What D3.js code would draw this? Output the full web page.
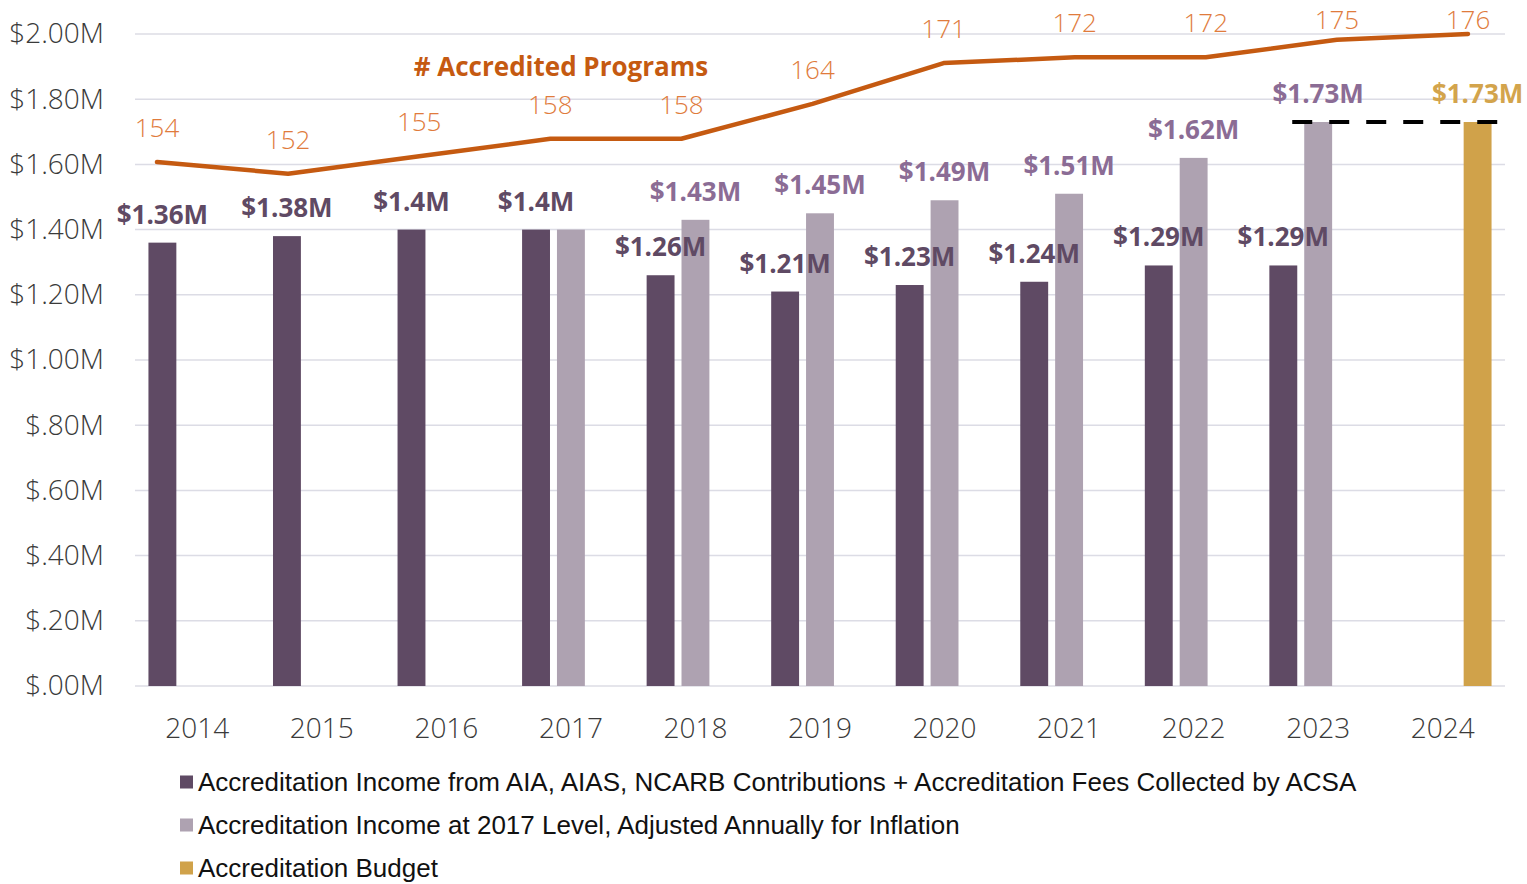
<!DOCTYPE html>
<html>
<head>
<meta charset="utf-8">
<script src="https://cdn.jsdelivr.net/npm/d3@7"></script>
<style>
  body { margin: 0; background: #fff; }
  svg { display: block; }
</style>
</head>
<body>
<div id="chart"></div>
<script>
// Accreditation income vs. number of accredited programs, 2014-2024
const years = ["2014", "2015", "2016", "2017", "2018", "2019", "2020", "2021", "2022", "2023", "2024"];
const income = [1.36, 1.38, 1.40, 1.40, 1.26, 1.21, 1.23, 1.24, 1.29, 1.29, null];     // $M
const adjusted = [null, null, null, 1.40, 1.43, 1.45, 1.49, 1.51, 1.62, 1.73, null];   // $M, 2017 level + inflation
const budget = [null, null, null, null, null, null, null, null, null, null, 1.73];     // $M
const programs = [154, 152, 155, 158, 158, 164, 171, 172, 172, 175, 176];
const yTicks = [0, 0.2, 0.4, 0.6, 0.8, 1.0, 1.2, 1.4, 1.6, 1.8, 2.0];
const baseYear = "2017";

const seriesKeys = ["income", "adjusted", "budget"];
const seriesNames = [
    "Accreditation Income from AIA, AIAS, NCARB Contributions + Accreditation Fees Collected by ACSA",
    "Accreditation Income at 2017 Level, Adjusted Annually for Inflation",
    "Accreditation Budget"
];
const barColors = { income: "#5f4a64", adjusted: "#aea2b1", budget: "#d0a24a" };
const labelColors = { income: "#5f4a64", adjusted: "#8b6c95", budget: "#d3a44c" };
const lineColor = "#c55a11";
const lineLabelColor = "#e07b3c";

const width = 1527;
const height = 884;
const margin = { top: 34, right: 22, bottom: 198, left: 135 };

const rows = [];
years.forEach((year, i) => {
    [income, adjusted, budget].forEach((arr, k) => {
        if (arr[i] !== null) rows.push({ year: year, key: seriesKeys[k], value: arr[i] });
    });
});

const svg = d3.select("#chart")
    .append("svg")
    .attr("width", width)
    .attr("height", height)
    .attr("viewBox", [0, 0, width, height]);

const y = d3.scaleLinear()
    .domain([0, 2])
    .range([height - margin.bottom, margin.top]);

const x0 = d3.scaleBand()
    .domain(years)
    .range([margin.left, width - margin.right])
    .paddingInner(0.16)
    .paddingOuter(0.08);

const x1 = d3.scaleBand()
    .domain(seriesKeys)
    .range([0, x0.bandwidth()])
    .paddingInner(0.2)
    .paddingOuter(0.1);

// the line sits on its own (hidden) secondary axes
const xLine = d3.scalePoint()
    .domain(years)
    .range([157, 1468]);

const yLine = d3.scaleLinear()
    .domain([64, 176])
    .range([height - margin.bottom, margin.top]);

// gridlines
svg.append("g")
    .selectAll("line")
    .data(yTicks)
    .enter().append("line")
    .attr("x1", margin.left)
    .attr("x2", width - margin.right)
    .attr("y1", d => y(d))
    .attr("y2", d => y(d))
    .attr("stroke", "#dcdce5")
    .attr("stroke-width", 1.5);

// y axis
const fmtTick = v => "$" + (v < 1 ? d3.format(".2f")(v).slice(1) : d3.format(".2f")(v)) + "M";
svg.append("g")
    .attr("transform", `translate(${margin.left},0)`)
    .call(d3.axisLeft(y).tickValues(yTicks).tickFormat(fmtTick).tickSize(0).tickPadding(31))
    .call(g => g.select(".domain").remove())
    .selectAll("text")
    .style("font-family", "'Open Sans'")
    .style("font-weight", 300)
    .style("font-size", "28px")
    .attr("fill", "#3a3a3a");

// x axis
svg.append("g")
    .attr("transform", `translate(0,${height - margin.bottom})`)
    .call(d3.axisBottom(x0).tickSize(0).tickPadding(32))
    .call(g => g.select(".domain").remove())
    .selectAll("text")
    .style("font-family", "'Open Sans'")
    .style("font-weight", 300)
    .style("font-size", "28px")
    .attr("fill", "#3a3a3a");

// bars
svg.append("g")
    .selectAll("rect")
    .data(rows)
    .enter().append("rect")
    .attr("x", d => x0(d.year) + x1(d.key))
    .attr("y", d => y(d.value))
    .attr("width", x1.bandwidth())
    .attr("height", d => y(0) - y(d.value))
    .attr("fill", d => barColors[d.key]);

// dashed reference line from 2023 adjusted to 2024 budget
const budgetVal = budget[budget.length - 1];
svg.append("line")
    .attr("x1", x0("2023") + x1("adjusted") - 12)
    .attr("x2", x0("2024") + x1("budget") + x1.bandwidth() + 8)
    .attr("y1", y(budgetVal))
    .attr("y2", y(budgetVal))
    .attr("stroke", "#000")
    .attr("stroke-width", 4)
    .attr("stroke-dasharray", "20 17");

// bar value labels (the base-year adjusted bar equals income, not labelled)
svg.append("g")
    .selectAll("text")
    .data(rows.filter(d => !(d.key === "adjusted" && d.year === baseYear)))
    .enter().append("text")
    .attr("x", d => x0(d.year) + x1(d.key) + x1.bandwidth() / 2)
    .attr("y", d => y(d.value) - 19)
    .attr("text-anchor", "middle")
    .style("font-family", "'Open Sans'")
    .style("font-weight", "bold")
    .style("font-size", "26px")
    .attr("fill", d => labelColors[d.key])
    .text(d => "$" + (+d.value.toFixed(2)) + "M");

// programs line
const line = d3.line()
    .x((d, i) => xLine(years[i]))
    .y(d => yLine(d));

svg.append("path")
    .datum(programs)
    .attr("d", line)
    .attr("fill", "none")
    .attr("stroke", lineColor)
    .attr("stroke-width", 4.5)
    .attr("stroke-linecap", "round")
    .attr("stroke-linejoin", "round");

svg.append("g")
    .selectAll("text")
    .data(programs)
    .enter().append("text")
    .attr("x", (d, i) => xLine(years[i]))
    .attr("y", d => Math.max(yLine(d) - 35, 19) + 10)
    .attr("text-anchor", "middle")
    .style("font-family", "'Open Sans'")
    .style("font-weight", 300)
    .style("font-size", "26px")
    .attr("fill", lineLabelColor)
    .text(d => d);

svg.append("text")
    .attr("x", 561)
    .attr("y", 76)
    .attr("text-anchor", "middle")
    .style("font-family", "'Open Sans'")
    .style("font-weight", "bold")
    .style("font-size", "26px")
    .attr("fill", lineColor)
    .text("# Accredited Programs");

// legend
const legend = svg.append("g")
    .attr("transform", "translate(180,782)");

seriesKeys.forEach((key, i) => {
    const item = legend.append("g").attr("transform", `translate(0,${i * 43})`);
    item.append("rect")
        .attr("x", 0)
        .attr("y", -6.5)
        .attr("width", 13)
        .attr("height", 13)
        .attr("fill", barColors[key]);
    item.append("text")
        .attr("x", 18)
        .attr("y", 9)
        .style("font-family", "'Liberation Sans', Arial, sans-serif")
        .style("font-size", "26px")
        .attr("fill", "#111")
        .text(seriesNames[i]);
});
</script>
</body>
</html>
